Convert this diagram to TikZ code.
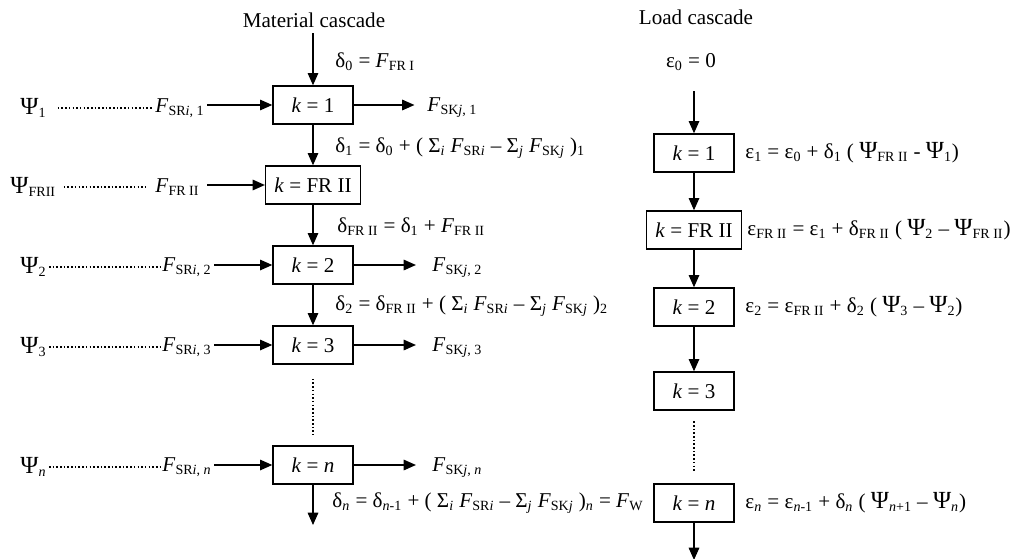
\documentclass[tikz,border=0pt]{standalone}
\usepackage{fontspec}
\setmainfont{Liberation Serif}
\usetikzlibrary{arrows.meta}
\newcommand\ssub[1]{\textsubscript{#1}}
\newcommand\ital[1]{\textit{#1}}
\newcommand\Psy{{\fontsize{14}{14}\selectfont Ψ}}
\begin{document}
\begin{tikzpicture}[x=0.02cm,y=-0.02cm,>={Triangle[length=7pt,width=6pt]},thick,font=\fontsize{12}{14}\selectfont,cell/.style={draw,minimum width=1.6cm,minimum height=0.76cm,inner xsep=5pt},lbl/.style={anchor=west,inner sep=1pt},dots/.style={dash pattern=on 0.9pt off 1.2pt}]
\useasboundingbox (0,0) rectangle (1014,558);
\node (mtitle) at (314,20) {Material cascade};
\node (ltitle) at (696,17) {Load cascade};
\node[cell] (m1) at (313,105) {\ital{k} = 1};
\node[cell] (mFR) at (313,185) {\ital{k} = FR II};
\node[cell] (m2) at (313,265) {\ital{k} = 2};
\node[cell] (m3) at (313,345) {\ital{k} = 3};
\node[cell] (mn) at (313,465) {\ital{k} = \ital{n}};
\coordinate (mtop) at (313,33);
\coordinate (mbot) at (313,525);
\draw[->] (mtop) -- (m1);
\draw[->] (m1) -- (mFR);
\draw[->] (mFR) -- (m2);
\draw[->] (m2) -- (m3);
\draw[dots] ([yshift=-8pt]m3.south) -- ([yshift=6pt]mn.north);
\draw[->] (mn) -- (mbot);
\node[lbl] (d0) at (333,62) {δ\ssub{0} = \ital{F}\ssub{FR I}};
\node[lbl] (d1) at (333,148) {δ\ssub{1} = δ\ssub{0} + ( Σ\ssub{\ital{i}} \ital{F}\ssub{SR\ital{i}} – Σ\ssub{\ital{j}} \ital{F}\ssub{SK\ital{j}} )\ssub{1}};
\node[lbl] (dFR) at (335,227) {δ\ssub{FR II} = δ\ssub{1} + \ital{F}\ssub{FR II}};
\node[lbl] (d2) at (333,306) {δ\ssub{2} = δ\ssub{FR II} + ( Σ\ssub{\ital{i}} \ital{F}\ssub{SR\ital{i}} – Σ\ssub{\ital{j}} \ital{F}\ssub{SK\ital{j}} )\ssub{2}};
\node[lbl] (dn) at (330,503) {δ\ssub{\ital{n}} = δ\ssub{\ital{n}-1} + ( Σ\ssub{\ital{i}} \ital{F}\ssub{SR\ital{i}} – Σ\ssub{\ital{j}} \ital{F}\ssub{SK\ital{j}} )\ssub{\ital{n}} = \ital{F}\ssub{W}};
\node[lbl] (p1) at (18,108) {\Psy\ssub{1}};
\node[lbl] (pFR) at (8,187) {\Psy\ssub{FRII}};
\node[lbl] (p2) at (18,267) {\Psy\ssub{2}};
\node[lbl] (p3) at (18,347) {\Psy\ssub{3}};
\node[lbl] (pn) at (18,467) {\Psy\ssub{\ital{n}}};
\node[lbl] (s1) at (153,108) {\ital{F}\ssub{SR\ital{i}, 1}};
\node[lbl] (sFR) at (153,187) {\ital{F}\ssub{FR II}};
\node[lbl] (s2) at (160,267) {\ital{F}\ssub{SR\ital{i}, 2}};
\node[lbl] (s3) at (160,347) {\ital{F}\ssub{SR\ital{i}, 3}};
\node[lbl] (sn) at (160,467) {\ital{F}\ssub{SR\ital{i}, \ital{n}}};
\draw[dots] ([xshift=5pt]p1.east) -- (s1.west);
\draw[dots] ([xshift=3pt]pFR.east) -- ([xshift=-4pt]sFR.west);
\draw[dots] (p2.east) -- (s2.west);
\draw[dots] (p3.east) -- (s3.west);
\draw[dots] (pn.east) -- (sn.west);
\draw[->] (m1.west -| s1.east) -- (m1.west);
\draw[->] ([xshift=3pt]mFR.west -| sFR.east) -- (mFR.west);
\draw[->] (m2.west -| s2.east) -- (m2.west);
\draw[->] (m3.west -| s3.east) -- (m3.west);
\draw[->] (mn.west -| sn.east) -- (mn.west);
\node[lbl] (o1) at (425,108) {\ital{F}\ssub{SK\ital{j}, 1}};
\node[lbl] (o2) at (430,268) {\ital{F}\ssub{SK\ital{j}, 2}};
\node[lbl] (o3) at (430,348) {\ital{F}\ssub{SK\ital{j}, 3}};
\node[lbl] (on) at (430,468) {\ital{F}\ssub{SK\ital{j}, \ital{n}}};
\draw[->] (m1.east) -- ([xshift=-6pt]m1.east -| o1.west);
\draw[->] (m2.east) -- ([xshift=-8pt]m2.east -| o2.west);
\draw[->] (m3.east) -- ([xshift=-8pt]m3.east -| o3.west);
\draw[->] (mn.east) -- ([xshift=-8pt]mn.east -| on.west);
\node (e0) at (691,62) {ε\ssub{0} = 0};
\node[cell] (l1) at (694,153) {\ital{k} = 1};
\node[cell] (lFR) at (694,230) {\ital{k} = FR II};
\node[cell] (l2) at (694,307) {\ital{k} = 2};
\node[cell] (l3) at (694,391) {\ital{k} = 3};
\node[cell] (ln) at (694,503) {\ital{k} = \ital{n}};
\coordinate (ltop) at (694,91);
\coordinate (lbot) at (694,560);
\draw[->] (ltop) -- (l1);
\draw[->] (l1) -- (lFR);
\draw[->] (lFR) -- (l2);
\draw[->] (l2) -- (l3);
\draw[dots] ([yshift=-6pt]l3.south) -- ([yshift=7pt]ln.north);
\draw[->] (ln) -- (lbot);
\node[lbl] (e1) at (743,153) {ε\ssub{1} = ε\ssub{0} + δ\ssub{1} ( \Psy\ssub{FR II} - \Psy\ssub{1})};
\node[lbl] (eFR) at (745,230) {ε\ssub{FR II} = ε\ssub{1} + δ\ssub{FR II} ( \Psy\ssub{2} – \Psy\ssub{FR II})};
\node[lbl] (e2) at (743,307) {ε\ssub{2} = ε\ssub{FR II} + δ\ssub{2} ( \Psy\ssub{3} – \Psy\ssub{2})};
\node[lbl] (en) at (743,503) {ε\ssub{\ital{n}} = ε\ssub{\ital{n}-1} + δ\ssub{\ital{n}} ( \Psy\ssub{\ital{n}+1} – \Psy\ssub{\ital{n}})};
\end{tikzpicture}
\end{document}
